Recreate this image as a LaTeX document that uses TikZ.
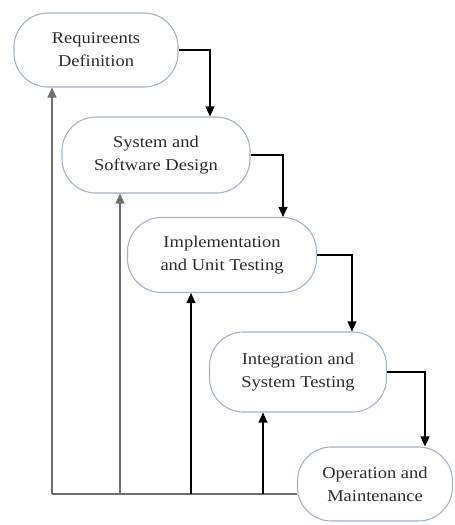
\documentclass[tikz,border=0pt]{standalone}
\usepackage{fontspec}
\setmainfont{Liberation Serif}[FakeStretch=1.12]
\usepackage{tikz}
\usetikzlibrary{positioning,arrows.meta}

\definecolor{stageline}{HTML}{A3B3C4}
\definecolor{stagetext}{HTML}{2B2B2B}
\definecolor{backline}{HTML}{6E6E6E}

\tikzset{
  stage/.style={draw=stageline, line width=1.1pt, fill=white, rounded corners=34pt,
    align=center, text=stagetext, inner sep=0pt,
    font=\fontsize{16.5}{23}\selectfont},
  flow/.style={->, >={Triangle[length=10pt,width=9pt]}, line width=1.1pt},
  backflow/.style={->, >={Triangle[length=10pt,width=9pt]}, line width=1.3pt, draw=backline},
}

\begin{document}
\begin{tikzpicture}[x=1pt, y=-1pt]
                \useasboundingbox (0,0) rectangle (455,525);
                \node (req) [stage, minimum width=164pt, minimum height=74pt] at (96,50) {Requireents\\Definition};
                \node (design) [stage, minimum width=188pt, minimum height=76pt] at (156,155) {System and\\Software Design};
                \node (impl) [stage, minimum width=189pt, minimum height=75pt] at (222,255) {Implementation\\and Unit Testing};
                \node (integ) [stage, minimum width=177pt, minimum height=80pt] at (298,372) {Integration and\\System Testing};
                \node (ops) [stage, minimum width=155pt, minimum height=74pt] at (375,484) {Operation and\\Maintenance};
                % forward steps
                \draw[flow] (req.east) -| (design.north -| 210,0);
                \draw[flow] (design.east) -| (impl.north -| 283,0);
                \draw[flow] (impl.east) -| (integ.north -| 352,0);
                \draw[flow] (integ.east) -| (ops.north -| 425,0);
                % going back
                \coordinate (loop) at (52,494);
                \coordinate (b2) at (120,494);
                \coordinate (b3) at (191,494);
                \coordinate (b4) at (263,494);
                \draw[backflow, -] (ops.west |- loop) -- (loop);
                \draw[backflow] (loop) -- (req.south -| loop);
                \draw[backflow] (b2) -- (design.south -| b2);
                \draw[flow] (b3) -- (impl.south -| b3);
                \draw[flow] (b4) -- (integ.south -| b4);
            \end{tikzpicture}
\end{document}
